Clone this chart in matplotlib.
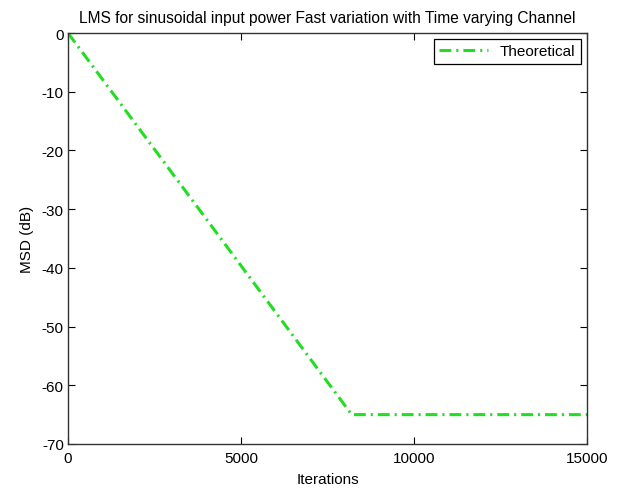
import numpy as np
import matplotlib.pyplot as plt

plt.rcParams['font.family'] = ['Liberation Sans', 'DejaVu Sans']
plt.rcParams['axes.unicode_minus'] = False
plt.rcParams['lines.scale_dashes'] = False

# theoretical MSD curve: linear decay then floor
iterations = [0, 8200, 15000]
msd_db = [0, -65, -65]

x_ticks = [0, 5000, 10000, 15000]
y_ticks = [0, -10, -20, -30, -40, -50, -60, -70]

fig = plt.figure(figsize=(6.2, 4.89), dpi=100)
ax = fig.add_axes([68/620, 1 - 445/489, (587 - 68)/620, (445 - 34)/489])

ax.plot(iterations, msd_db, linestyle='-.', color='#22dd22', linewidth=2.2,
        label='Theoretical', dashes=(8.5, 3.6, 1.5, 3.6))

ax.set_xlim(0, 15000)
ax.set_ylim(-70, 0)
ax.set_xticks(x_ticks)
ax.set_yticks(y_ticks)
ax.tick_params(direction='in', top=True, right=True, length=5, width=0.8,
               labelsize=11, pad=3)
ax.tick_params(axis='x', pad=5)
for s in ax.spines.values():
    s.set_linewidth(1.0)
    s.set_color('#333333')

ax.set_title('LMS for sinusoidal input power Fast variation with Time varying Channel',
             fontsize=11.2, pad=8)
ax.set_xlabel('Iterations', fontsize=11, labelpad=5)
ax.set_ylabel('MSD (dB)', fontsize=11, labelpad=6)

leg = ax.legend(loc='upper right', fontsize=11, fancybox=False, framealpha=1,
                edgecolor='black', handlelength=3.2, borderpad=0.35,
                borderaxespad=0.4)
leg.get_frame().set_linewidth(0.9)

fig.savefig('out.png', dpi=100)
